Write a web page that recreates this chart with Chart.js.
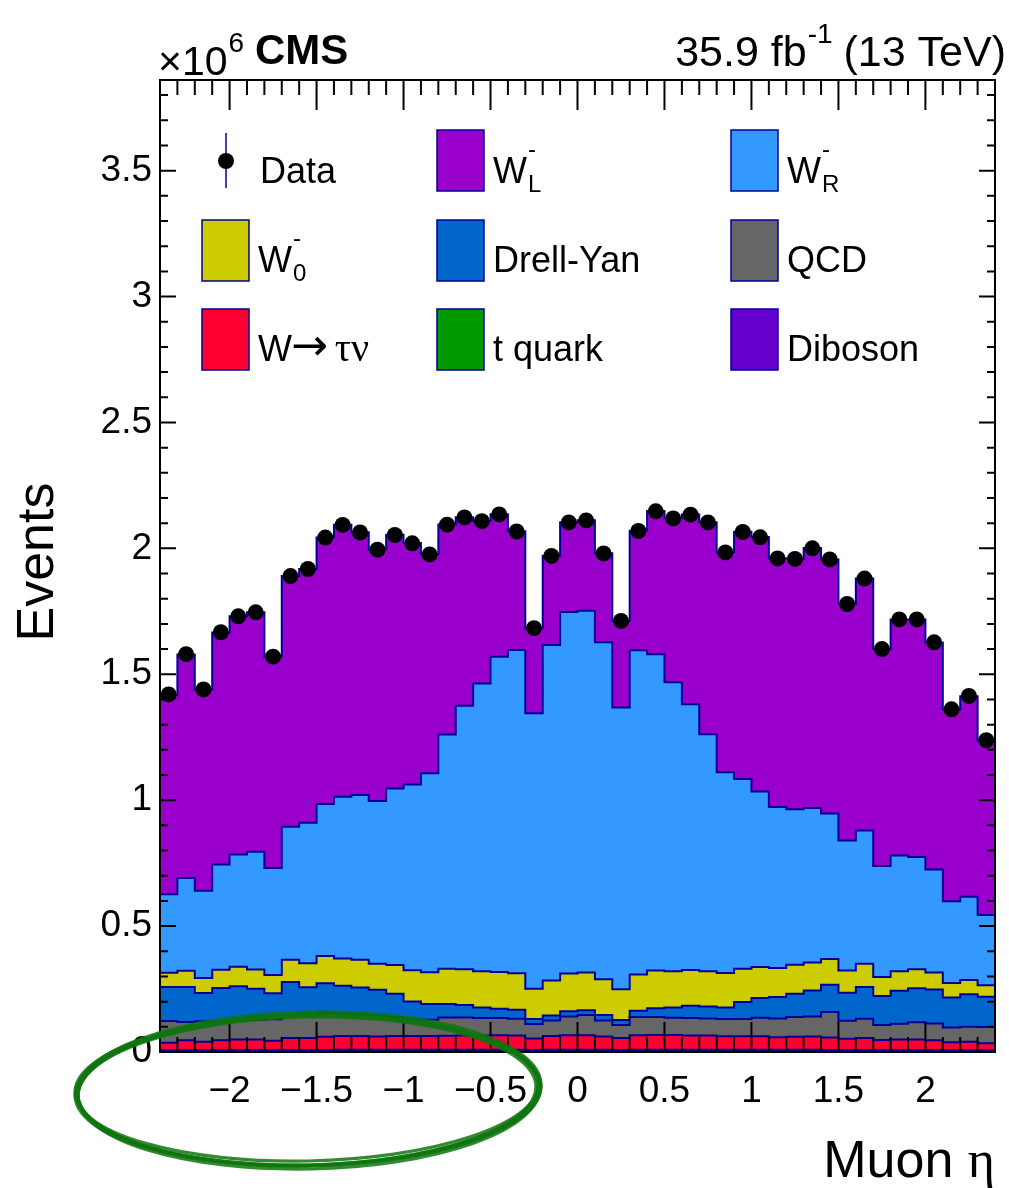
<!DOCTYPE html>
<html>
<head>
<meta charset="utf-8">
<script src="https://cdn.jsdelivr.net/npm/chart.js@4.4.1/dist/chart.umd.min.js"></script>
<style>
  html, body { margin: 0; padding: 0; background: #fff; }
  #wrap { width: 1009px; height: 1188px; }
</style>
</head>
<body>
<div id="wrap"><canvas id="chart"></canvas></div>
<script>
// muon eta bin edges (48 bins of 0.1)
const bin_edges = [-2.4, -2.3, -2.2, -2.1, -2.0, -1.9, -1.8, -1.7, -1.6, -1.5, -1.4, -1.3, -1.2, -1.1, -1.0, -0.9,
    -0.8, -0.7, -0.6, -0.5, -0.4, -0.3, -0.2, -0.1, 0.0, 0.1, 0.2, 0.3, 0.4, 0.5, 0.6, 0.7, 0.8, 0.9, 1.0, 1.1,
    1.2, 1.3, 1.4, 1.5, 1.6, 1.7, 1.8, 1.9, 2.0, 2.1, 2.2, 2.3, 2.4];

// all values in units of 10^6 events
const data_events = [1.42, 1.58, 1.44, 1.667, 1.73, 1.746, 1.57, 1.89, 1.918, 2.043, 2.093, 2.063, 1.995, 2.053, 2.02, 1.976,
    2.094, 2.123, 2.108, 2.135, 2.067, 1.683, 1.97, 2.103, 2.111, 1.98, 1.712, 2.069, 2.147, 2.119, 2.134, 2.103,
    1.984, 2.065, 2.044, 1.96, 1.958, 2.0, 1.956, 1.779, 1.88, 1.60, 1.718, 1.718, 1.627, 1.361, 1.414, 1.238];

const w_left = [0.793, 0.888, 0.799, 0.921, 0.946, 0.951, 0.839, 0.995, 1.008, 1.058, 1.080, 1.043, 0.999, 1.008, 0.959, 0.870,
    0.834, 0.749, 0.646, 0.566, 0.472, 0.338, 0.355, 0.357, 0.360, 0.354, 0.344, 0.475, 0.568, 0.652, 0.754, 0.842,
    0.874, 0.982, 1.011, 0.988, 0.995, 1.032, 1.009, 0.939, 1.000, 0.861, 0.938, 0.944, 0.901, 0.761, 0.796, 0.693];

const w_right = [0.311, 0.368, 0.346, 0.418, 0.445, 0.467, 0.425, 0.529, 0.558, 0.604, 0.643, 0.655, 0.647, 0.701, 0.737, 0.790,
    0.930, 1.046, 1.142, 1.252, 1.283, 1.094, 1.332, 1.435, 1.436, 1.338, 1.119, 1.287, 1.256, 1.147, 1.055, 0.941,
    0.797, 0.753, 0.696, 0.639, 0.618, 0.614, 0.578, 0.516, 0.530, 0.441, 0.459, 0.445, 0.409, 0.325, 0.331, 0.279];

const w_zero = [0.057, 0.065, 0.060, 0.073, 0.078, 0.077, 0.073, 0.088, 0.095, 0.108, 0.108, 0.110, 0.103, 0.114, 0.124, 0.126,
    0.140, 0.142, 0.144, 0.146, 0.145, 0.120, 0.139, 0.150, 0.150, 0.142, 0.122, 0.144, 0.150, 0.144, 0.142, 0.140,
    0.137, 0.132, 0.124, 0.116, 0.115, 0.111, 0.102, 0.089, 0.092, 0.076, 0.078, 0.076, 0.068, 0.058, 0.057, 0.046];

const drell_yan = [0.135, 0.139, 0.112, 0.131, 0.134, 0.124, 0.103, 0.135, 0.114, 0.117, 0.111, 0.107, 0.103, 0.092, 0.070, 0.063,
    0.054, 0.050, 0.042, 0.037, 0.036, 0.020, 0.020, 0.021, 0.019, 0.022, 0.020, 0.025, 0.035, 0.041, 0.049, 0.048,
    0.046, 0.068, 0.078, 0.085, 0.092, 0.103, 0.108, 0.111, 0.126, 0.115, 0.131, 0.135, 0.135, 0.119, 0.129, 0.120];

const qcd = [0.086, 0.072, 0.081, 0.076, 0.077, 0.077, 0.085, 0.087, 0.087, 0.095, 0.088, 0.085, 0.082, 0.075, 0.067, 0.064,
    0.072, 0.071, 0.069, 0.068, 0.066, 0.057, 0.061, 0.074, 0.080, 0.063, 0.051, 0.072, 0.071, 0.068, 0.069, 0.067,
    0.068, 0.068, 0.073, 0.074, 0.078, 0.079, 0.101, 0.071, 0.076, 0.059, 0.062, 0.068, 0.066, 0.058, 0.059, 0.064];

const w_tau = [0.030, 0.040, 0.034, 0.040, 0.042, 0.042, 0.037, 0.048, 0.048, 0.053, 0.055, 0.055, 0.053, 0.055, 0.055, 0.055,
    0.056, 0.057, 0.057, 0.058, 0.057, 0.046, 0.055, 0.058, 0.058, 0.053, 0.048, 0.058, 0.059, 0.059, 0.057, 0.057,
    0.054, 0.054, 0.054, 0.050, 0.052, 0.053, 0.050, 0.045, 0.048, 0.040, 0.042, 0.042, 0.040, 0.032, 0.034, 0.028];

const t_quark = [0.005, 0.005, 0.005, 0.005, 0.006, 0.006, 0.006, 0.006, 0.006, 0.006, 0.007, 0.007, 0.007, 0.007, 0.007, 0.007,
    0.007, 0.007, 0.007, 0.007, 0.007, 0.006, 0.007, 0.007, 0.007, 0.007, 0.006, 0.007, 0.007, 0.007, 0.007, 0.007,
    0.007, 0.007, 0.007, 0.007, 0.007, 0.007, 0.006, 0.006, 0.006, 0.006, 0.006, 0.006, 0.005, 0.005, 0.005, 0.005];

const diboson = [0.002, 0.002, 0.002, 0.002, 0.002, 0.002, 0.002, 0.002, 0.002, 0.002, 0.002, 0.002, 0.002, 0.002, 0.002, 0.002,
    0.002, 0.002, 0.002, 0.002, 0.002, 0.002, 0.002, 0.002, 0.002, 0.002, 0.002, 0.002, 0.002, 0.002, 0.002, 0.002,
    0.002, 0.002, 0.002, 0.002, 0.002, 0.002, 0.002, 0.002, 0.002, 0.002, 0.002, 0.002, 0.002, 0.002, 0.002, 0.002];

const x_tick_values = [-2, -1.5, -1, -0.5, 0, 0.5, 1, 1.5, 2];
const x_tick_labels = ['\u22122', '\u22121.5', '\u22121', '\u22120.5', '0', '0.5', '1', '1.5', '2'];
const y_tick_values = [0, 0.5, 1, 1.5, 2, 2.5, 3, 3.5];
const y_tick_labels = ['0', '0.5', '1', '1.5', '2', '2.5', '3', '3.5'];

// bottom of the stack first
const stack_layers = [
    { label: 'Diboson', values: diboson, color: '#6600cc' },
    { label: 't quark', values: t_quark, color: '#009900' },
    { label: 'W\u2192\u03c4\u03bd', values: w_tau, color: '#ff0033' },
    { label: 'QCD', values: qcd, color: '#666666' },
    { label: 'Drell-Yan', values: drell_yan, color: '#0066cc' },
    { label: 'W0', values: w_zero, color: '#cccc00' },
    { label: 'WR', values: w_right, color: '#3399ff' },
    { label: 'WL', values: w_left, color: '#9900cc' }
];

const outline = '#000099';
const sans = '"Liberation Sans", Arial, sans-serif';
const serif = '"Liberation Serif", "DejaVu Serif", serif';

const datasets = stack_layers.map((layer, i) => ({
    type: 'line',
    label: layer.label,
    data: bin_edges.map((x, j) => ({ x: x, y: layer.values[Math.min(j, layer.values.length - 1)] })),
    stepped: true,
    fill: i === 0 ? 'origin' : '-1',
    backgroundColor: layer.color,
    borderColor: outline,
    borderWidth: 2,
    pointRadius: 0,
    stack: 'mc',
    order: 1
}));

datasets.push({
    type: 'scatter',
    label: 'Data',
    data: data_events.map((v, j) => ({ x: (bin_edges[j] + bin_edges[j + 1]) / 2, y: v })),
    backgroundColor: '#000',
    borderWidth: 0,
    pointRadius: 8,
    stack: 'data',
    order: 0
});

function draw_w(ctx, x, base, sub) {
    ctx.font = '36px ' + sans;
    ctx.fillText('W', x, base);
    const w = ctx.measureText('W').width;
    ctx.font = '24px ' + sans;
    ctx.fillText('-', x + w + 1, base - 26);
    ctx.fillText(sub, x + w + 1, base + 9);
}

const root_style = {
    id: 'root_style',
    afterDraw(chart) {
        const { ctx, chartArea: a, scales: { x, y } } = chart;
        ctx.save();

        // ticks on all four sides, pointing inwards
        ctx.strokeStyle = '#000';
        ctx.lineWidth = 2;
        ctx.beginPath();
        for (let k = 0; k <= 48; k++) {
            const v = -2.4 + k * 0.1;
            const major = Math.abs(v * 2 - Math.round(v * 2)) < 1e-6;
            const len = major ? 30 : 15;
            const px = x.getPixelForValue(v);
            ctx.moveTo(px, a.bottom); ctx.lineTo(px, a.bottom - len);
            ctx.moveTo(px, a.top); ctx.lineTo(px, a.top + len);
        }
        for (let k = 0; k <= 38; k++) {
            const len = k % 5 === 0 ? 16 : 8;
            const py = y.getPixelForValue(k * 0.1);
            ctx.moveTo(a.left, py); ctx.lineTo(a.left + len, py);
            ctx.moveTo(a.right, py); ctx.lineTo(a.right - len, py);
        }
        ctx.stroke();
        ctx.strokeRect(a.left, a.top, a.right - a.left, a.bottom - a.top);

        // header
        ctx.fillStyle = '#000';
        ctx.textBaseline = 'alphabetic';
        ctx.textAlign = 'left';
        ctx.font = '41px ' + sans;
        ctx.fillText('\u00d710', 158, 75);
        const w10 = ctx.measureText('\u00d710').width;
        ctx.font = '28px ' + sans;
        ctx.fillText('6', 158 + w10 + 1, 52);
        ctx.font = 'bold 42px ' + sans;
        ctx.fillText('CMS', 255, 64);

        ctx.font = '43px ' + sans;
        const p1 = '35.9 fb', p3 = ' (13 TeV)';
        const w1 = ctx.measureText(p1).width, w3 = ctx.measureText(p3).width;
        ctx.font = '28px ' + sans;
        const w2 = ctx.measureText('-1').width;
        let sx = 1006 - (w1 + w2 + w3);
        ctx.font = '43px ' + sans;
        ctx.fillText(p1, sx, 66);
        ctx.font = '28px ' + sans;
        ctx.fillText('-1', sx + w1 + 1, 43);
        ctx.font = '43px ' + sans;
        ctx.fillText(p3, sx + w1 + w2, 66);

        // axis titles
        ctx.textAlign = 'right';
        ctx.font = '52px ' + serif;
        const ew = ctx.measureText('\u03b7').width;
        ctx.fillText('\u03b7', a.right, 1177);
        ctx.font = '52px ' + sans;
        ctx.fillText('Muon ', a.right - ew, 1177);

        ctx.save();
        ctx.translate(53, (a.top + a.bottom) / 2 - 4);
        ctx.rotate(-Math.PI / 2);
        ctx.textAlign = 'center';
        ctx.font = '52px ' + sans;
        ctx.fillText('Events', 0, 0);
        ctx.restore();

        // legend
        ctx.textAlign = 'left';
        const col_box = [202, 437, 731];
        const row_top = [130, 220, 309];
        const row_base = [183, 272, 361];
        const entries = [
            ['data', 0, 0], ['WL', 1, 0], ['WR', 2, 0],
            ['W0', 0, 1], ['Drell-Yan', 1, 1], ['QCD', 2, 1],
            ['W\u2192\u03c4\u03bd', 0, 2], ['t quark', 1, 2], ['Diboson', 2, 2]
        ];
        entries.forEach(([name, c, r]) => {
            const bx = col_box[c], by = row_top[r], tx = bx + 56, base = row_base[r];
            if (name === 'data') {
                ctx.strokeStyle = outline;
                ctx.lineWidth = 1.5;
                ctx.beginPath();
                ctx.moveTo(bx + 24, by + 3); ctx.lineTo(bx + 24, by + 58);
                ctx.stroke();
                ctx.fillStyle = '#000';
                ctx.beginPath();
                ctx.arc(bx + 24, by + 31, 8, 0, Math.PI * 2);
                ctx.fill();
                ctx.font = '36px ' + sans;
                ctx.fillText('Data', tx + 2, base);
                return;
            }
            const layer = stack_layers.find(l => l.label === name);
            ctx.fillStyle = layer.color;
            ctx.fillRect(bx, by, 47, 61);
            ctx.strokeStyle = outline;
            ctx.lineWidth = 1.5;
            ctx.strokeRect(bx, by, 47, 61);
            ctx.fillStyle = '#000';
            if (name === 'WL' || name === 'WR' || name === 'W0') {
                draw_w(ctx, tx, base, name === 'WL' ? 'L' : name === 'WR' ? 'R' : '0');
            } else if (name.startsWith('W\u2192')) {
                ctx.font = '36px ' + sans;
                ctx.fillText('W', tx, base);
                const ww = ctx.measureText('W').width;
                ctx.font = '44px "DejaVu Sans", sans-serif';
                ctx.fillText('\u2192', tx + ww - 1, base - 1);
                const aw = ctx.measureText('\u2192').width;
                ctx.font = '40px ' + serif;
                ctx.fillText('\u03c4\u03bd', tx + ww + aw + 6, base);
            } else {
                ctx.font = '36px ' + sans;
                ctx.fillText(name, tx, base);
            }
        });

        // hand-drawn green circle
        ctx.strokeStyle = 'rgba(15,118,15,0.85)';
        ctx.lineWidth = 3.2;
        const strokes = [[0, 0, 0, 0], [1, -1, 2, 2], [-1, 1, -1, -1], [1, 2, 1, 2], [-1, -2, 2, -2], [0, 1, 3, 0]];
        strokes.forEach(([dx, dy, drx, dry]) => {
            ctx.beginPath();
            ctx.ellipse(308 + dx, 1090 + dy, 230 + drx, 75 + dry, -0.02, 0, Math.PI * 2);
            ctx.stroke();
        });

        ctx.restore();
    }
};

new Chart(document.getElementById('chart'), {
    data: { datasets: datasets },
    options: {
        responsive: true,
        maintainAspectRatio: false,
        animation: false,
        devicePixelRatio: 1,
        layout: { padding: { top: 80, right: 14, left: 0, bottom: 0 } },
        plugins: {
            legend: { display: false },
            tooltip: { enabled: false }
        },
        scales: {
            x: {
                type: 'linear',
                min: -2.4,
                max: 2.4,
                grid: { display: false, drawTicks: false },
                border: { display: false },
                afterBuildTicks: scale => { scale.ticks = x_tick_values.map(v => ({ value: v })); },
                afterFit: scale => { scale.height = 136; },
                ticks: {
                    autoSkip: false,
                    maxRotation: 0,
                    padding: 18,
                    color: '#000',
                    font: { size: 37, family: sans },
                    callback: (v, i) => x_tick_labels[i]
                }
            },
            y: {
                type: 'linear',
                stacked: true,
                min: 0,
                max: 3.86,
                grid: { display: false, drawTicks: false },
                border: { display: false },
                afterBuildTicks: scale => { scale.ticks = y_tick_values.map(v => ({ value: v })); },
                afterFit: scale => { scale.width = 160; },
                ticks: {
                    autoSkip: false,
                    padding: 8,
                    color: '#000',
                    font: { size: 37, family: sans },
                    callback: (v, i) => y_tick_labels[i]
                }
            }
        }
    },
    plugins: [root_style]
});
</script>
</body>
</html>
